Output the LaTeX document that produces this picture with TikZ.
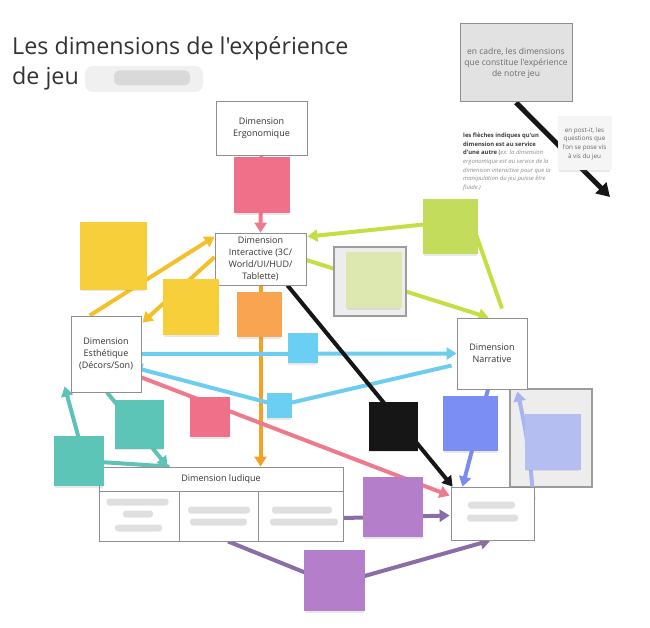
\documentclass[tikz,border=0pt]{standalone}
\usepackage{fontspec}
\setmainfont{Open Sans}[Ligatures=TeXOff]
\usetikzlibrary{arrows.meta,calc,shadows}
\pgfdeclarelayer{back}
\pgfdeclarelayer{lines}
\pgfsetlayers{back,lines,main}
\definecolor{boxc}{HTML}{8F8F8F}
\definecolor{txtc}{HTML}{333333}
\definecolor{pinkl}{HTML}{EE7A8E}
\definecolor{pinkp}{HTML}{F07089}
\definecolor{yell}{HTML}{F4C02A}
\definecolor{yelp}{HTML}{F6CF3B}
\definecolor{oral}{HTML}{F4A225}
\definecolor{orap}{HTML}{F9A451}
\definecolor{grnl}{HTML}{C6DE45}
\definecolor{grnp}{HTML}{C3DC5C}
\definecolor{grnpale}{HTML}{DCE8AF}
\definecolor{cyanl}{HTML}{6DCDEF}
\definecolor{cyanp}{HTML}{6ACFF3}
\definecolor{blkl}{HTML}{161616}
\definecolor{peril}{HTML}{7A8CEE}
\definecolor{perip}{HTML}{7B8EF3}
\definecolor{pblul}{HTML}{A9B4EE}
\definecolor{pblup}{HTML}{B4BEF0}
\definecolor{purl}{HTML}{8A6CA6}
\definecolor{purp}{HTML}{B47ECB}
\definecolor{teall}{HTML}{5EC2B6}
\definecolor{tealp}{HTML}{5DC4B8}
\definecolor{framec}{HTML}{9C9C9C}
\definecolor{framef}{HTML}{EDEDED}
\definecolor{cadref}{HTML}{E2E2E2}
\definecolor{legc}{HTML}{3A3A3A}
\definecolor{legi}{HTML}{8A8A8A}
\begin{document}
\begin{tikzpicture}[x=1pt,y=-1pt,
  dim/.style={draw=boxc,fill=white,line width=0.8pt,align=center,inner sep=0pt,
    font=\fontsize{9}{12.2}\selectfont,text=txtc},
  postit/.style={inner sep=0pt,minimum width=#1,minimum height=#1,
    drop shadow={shadow xshift=0pt,shadow yshift=-3pt,shadow scale=0.96,opacity=0.18}},
  grayframe/.style={draw=framec,fill=framef,line width=1.1pt,inner sep=0pt},
  blurtxt/.style={fill=gray!25,rounded corners=3pt,inner sep=0pt,minimum height=7pt},
  arr/.style={line width=4pt,line join=round,-{Triangle[length=10pt,width=12pt]}}
]
\useasboundingbox (0,0) rectangle (650,628);

% title
\node[anchor=base west,inner sep=0pt,font=\fontsize{23.3}{30}\selectfont,text=txtc] (title1) at (12,55) {Les dimensions de l'expérience};
\node[anchor=base west,inner sep=0pt,font=\fontsize{23.3}{30}\selectfont,text=txtc] (title2) at (12,85) {de jeu};
\node[fill=gray!12,rounded corners=8pt,minimum width=118pt,minimum height=26pt,inner sep=0pt] (blur0) at (144,79) {};
\node[fill=gray!30,rounded corners=6pt,minimum width=76pt,minimum height=15pt,inner sep=0pt] (blur0b) at (152,78) {};

% legend
\node[draw=boxc,fill=cadref,line width=1pt,minimum width=112pt,minimum height=78pt,inner sep=0pt,align=center,
  font=\fontsize{8.5}{11}\selectfont,text=gray!85!black] (cadre) at (516,63) {en cadre, les dimensions\\que constitue l'expérience\\de notre jeu};
\coordinate (legtip) at (610,197);
\node[anchor=north west,align=left,inner sep=0pt,font=\fontsize{5.9}{8.6}\selectfont,text=legc] (legtxt) at (463,133)
 {\textbf{les flèches indiques qu'un}\\\textbf{dimension est au service}\\\textbf{d'une autre} (\textcolor{legi}{\textit{ex: la dimension}}\\
  \textcolor{legi}{\textit{ergonomique est au service de la}}\\\textcolor{legi}{\textit{dimension interactive pour que la}}\\
  \textcolor{legi}{\textit{manipulation du jeu puisse être}}\\\textcolor{legi}{\textit{fluide.)}}};

% dimension boxes
\node[dim,minimum width=91pt,minimum height=54pt] (ergo) at (261.5,128) {Dimension\\Ergonomique};
\node[dim,minimum width=91pt,minimum height=52pt] (inter) at (260.5,259) {Dimension\\Interactive (3C/\\World/UI/HUD/\\Tablette)};
\node[dim,minimum width=70pt,minimum height=76pt] (esth) at (106,354) {Dimension\\Esthétique\\(Décors/Son)};
\node[dim,minimum width=70pt,minimum height=71pt] (narr) at (492,353.5) {Dimension\\Narrative};
\node[dim,minimum width=244pt,minimum height=24pt] (lud) at (221,479) {Dimension ludique};
\node[dim,minimum width=80pt,minimum height=50pt] (lud1) at (139,516) {};
\node[dim,minimum width=79pt,minimum height=50pt] (lud2) at (218.5,516) {};
\node[dim,minimum width=85pt,minimum height=50pt] (lud3) at (300.5,516) {};
\node[dim,minimum width=83pt,minimum height=53pt] (fin) at (492.5,513.5) {};

% blurred texts
\node[blurtxt,minimum width=62pt] (b1) at (137.5,502) {};
\node[blurtxt,minimum width=30pt] (b2) at (138,514) {};
\node[blurtxt,minimum width=47pt] (b3) at (138.5,528) {};
\node[blurtxt,minimum width=62pt] (b4) at (219,510) {};
\node[blurtxt,minimum width=57pt] (b5) at (218.5,522) {};
\node[blurtxt,minimum width=60pt] (b6) at (302,510) {};
\node[blurtxt,minimum width=68pt] (b7) at (304,522) {};
\node[blurtxt,minimum width=47pt] (b8) at (491.5,505) {};
\node[blurtxt,minimum width=51pt] (b9) at (492.5,518) {};

% gray frames
\node[grayframe,minimum width=72pt,minimum height=69pt] (gbox2) at (370,281.5) {};
\begin{pgfonlayer}{back}
\node[grayframe,minimum width=82pt,minimum height=98pt] (gbox3) at (551,438) {};
\end{pgfonlayer}

% post-its
\node[postit=54pt,fill=gray!8,align=center,font=\fontsize{6.3}{8.7}\selectfont,text=gray!80!black] (legpost) at (584.5,143.5) {en post-it, les\\questions que\\l'on se pose vis\\à vis du jeu};
\node[postit=56pt,fill=pinkp] (pinkE) at (262,185) {};
\node[postit=67pt,fill=yelp] (yel1) at (113,256) {};
\node[postit=56pt,fill=yelp] (yel2) at (191,307) {};
\node[postit=45pt,fill=orap] (orange) at (259.5,314.5) {};
\node[postit=55pt,fill=grnp] (green1) at (450.5,227) {};
\node[postit=56pt,fill=grnpale] (green2) at (373.5,280) {};
\node[postit=30pt,fill=cyanp] (cyan1) at (302.5,348) {};
\node[postit=25pt,fill=cyanp] (cyan2) at (279,405.5) {};
\node[postit=40pt,fill=pinkp] (pinkL) at (210,417) {};
\node[postit=49pt,fill=blkl] (black) at (393.5,426) {};
\node[postit=55pt,fill=perip] (peri) at (470.5,423.5) {};
\node[postit=56pt,fill=pblup] (pblue) at (552.5,441.5) {};
\node[postit=60pt,fill=purp] (purple1) at (393,507) {};
\node[postit=61pt,fill=purp] (purple2) at (334.5,580.5) {};
\node[postit=49pt,fill=tealp] (teal1) at (139,424) {};
\node[postit=50pt,fill=tealp] (teal2) at (79,461) {};

% connectors
\begin{pgfonlayer}{lines}
\draw[line width=5pt,blkl,-{Triangle[length=13pt,width=15pt]}] (cadre.south) -- (legtip);
\draw[arr,pinkl] (ergo.south) -- (inter.north);
\draw[arr,yell] ($(esth.north west)+(19,0)$) -- ($(inter.north west)+(0,4)$);
\draw[arr,yell] ($(inter.west)+(0,-2)$) -- ($(esth.north east)+(1,7)$);
\draw[arr,oral] (inter.south) -- (inter.south |- lud.north);
\draw[arr,grnl] ($(narr.north)+(10,-9)$) -- ($(green1.center)+(25,6)$) -- ($(green1.center)+(-22,-3)$) -- ($(inter.north east)+(1,4)$);
\draw[arr,grnl] ($(inter.east)+(0,1)$) -- ($(narr.north west)+(32,0)$);
\draw[arr,cyanl] (esth.east) -- (narr.west);
\draw[arr,cyanl] ($(narr.west)+(-5,12)$) -- (cyan2.center) -- ($(esth.east)+(-9,13)$);
\draw[arr,pinkl] ($(esth.south east)+(0,-15)$) -- ($(fin.north west)+(-1,9)$);
\draw[arr,blkl] ($(inter.south)+(27,0)$) -- ($(fin.north west)+(2,0)$);
\draw[arr,peril] ($(narr.south)+(-4,0)$) -- ($(fin.north)+(-30,0)$);
\draw[arr,pblul] ($(fin.north east)+(-1,13)$) to[bend right=4] ($(narr.south east)+(-10,2)$);
\draw[arr,purl] ($(lud3.east)+(0,2)$) -- ($(fin.west)+(-1,2)$);
\draw[arr,purl] ($(lud2.south)+(9.5,0)$) -- ($(purple2.center)+(0,4)$) -- ($(fin.south)+(-2,0)$);
\draw[arr,teall] ($(esth.south)+(1,0)$) -- ($(lud.north west)+(69,0)$);
\draw[arr,teall] ($(lud.north west)+(71,0)$) -- ($(teal2.center)+(6,0)$) -- ($(esth.south west)+(-6,-6)$);
\end{pgfonlayer}
\end{tikzpicture}
\end{document}
